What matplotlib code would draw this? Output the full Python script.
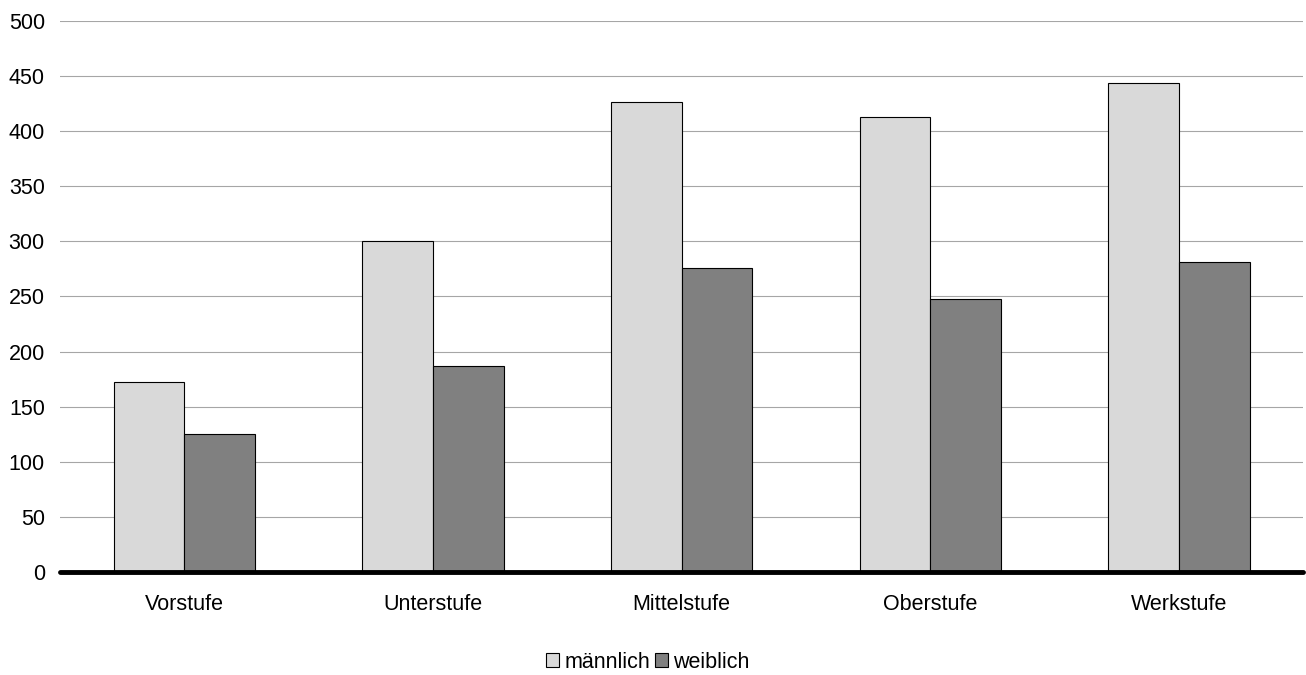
import numpy as np
import matplotlib
matplotlib.use('Agg')
import matplotlib.pyplot as plt

plt.rcParams['font.family'] = ['Liberation Sans', 'DejaVu Sans']

stufen = ['Vorstufe', 'Unterstufe', 'Mittelstufe', 'Oberstufe', 'Werkstufe']
maennlich = [172, 300, 426, 413, 444]
weiblich = [125, 187, 276, 248, 281]

fig = plt.figure(figsize=(13.06, 6.75), dpi=100)
ax = fig.add_axes([0.046, 0.1526, 0.952, 0.8164])

x = np.arange(len(stufen))
w = 0.284
ax.bar(x - w / 2, maennlich, w, color='#D9D9D9', edgecolor='black', linewidth=0.8,
       label='männlich', zorder=3)
ax.bar(x + w / 2, weiblich, w, color='#808080', edgecolor='black', linewidth=0.8,
       label='weiblich', zorder=3)

ax.set_xlim(-0.5, len(stufen) - 0.5)
ax.set_ylim(0, 500)
ax.set_yticks(range(0, 501, 50))
ax.set_xticks(x)
ax.set_xticklabels(stufen)
ax.tick_params(axis='both', length=0, labelsize=15.5, colors='black')
ax.tick_params(axis='x', pad=16)
ax.tick_params(axis='y', pad=11)
ax.grid(axis='y', color='#A6A6A6', linewidth=0.8, zorder=0)
for s in ['top', 'right', 'left']:
    ax.spines[s].set_visible(False)
ax.spines['bottom'].set_linewidth(3.5)
ax.spines['bottom'].set_capstyle('round')
ax.spines['bottom'].set_zorder(4)

fig.legend(loc='center', bbox_to_anchor=(0.496, 1 - 662 / 675), ncol=2, frameon=False,
           fontsize=15.5, handlelength=0.6, handleheight=0.6, handletextpad=0.25,
           columnspacing=0.2)

fig.savefig('out.png', dpi=100)
